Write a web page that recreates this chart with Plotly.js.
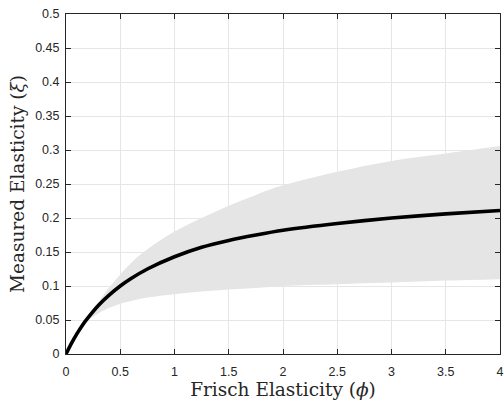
<!DOCTYPE html>
<html>
<head>
<meta charset="utf-8">
<script src="https://cdn.plot.ly/plotly-3.0.1.min.js"></script>
<style>html,body{margin:0;padding:0;background:#fff;}#chart{width:504px;height:401px;}</style>
</head>
<body>
<div id="chart"></div>
<script>
// Measured elasticity curve
const phi = [0, 0.05, 0.1, 0.15, 0.2, 0.3, 0.4, 0.5, 0.6, 0.75, 1, 1.25, 1.5, 1.75, 2, 2.5, 3, 3.5, 4];
const xi  = [0, 0.0155, 0.0295, 0.042, 0.0526, 0.0716, 0.0869, 0.100, 0.111, 0.125, 0.143, 0.157, 0.167, 0.175, 0.182, 0.192, 0.200, 0.206, 0.211];

// Shaded band
const bandPhi   = [0.2, 0.25, 0.3, 0.4, 0.5, 0.6, 0.75, 1, 1.25, 1.5, 1.75, 2, 2.5, 3, 3.5, 4];
const bandUpper = [0.053, 0.064, 0.076, 0.098, 0.117, 0.134, 0.154, 0.180, 0.200, 0.218, 0.234, 0.248, 0.268, 0.284, 0.295, 0.306];
const bandLower = [0.050, 0.055, 0.060, 0.068, 0.074, 0.078, 0.083, 0.088, 0.092, 0.095, 0.097, 0.100, 0.1025, 0.105, 0.108, 0.110];

const xTicks = [0, 0.5, 1, 1.5, 2, 2.5, 3, 3.5, 4];
const yTicks = [0, 0.05, 0.1, 0.15, 0.2, 0.25, 0.3, 0.35, 0.4, 0.45, 0.5];

const traces = [
  {x: bandPhi, y: bandLower, mode: 'lines', line: {width: 0, color: 'rgba(0,0,0,0)', shape: 'spline', smoothing: 1}, hoverinfo: 'skip', showlegend: false},
  {x: bandPhi, y: bandUpper, mode: 'lines', fill: 'tonexty', fillcolor: '#e5e5e5', line: {width: 0, color: 'rgba(0,0,0,0)', shape: 'spline', smoothing: 1}, hoverinfo: 'skip', showlegend: false},
  {x: phi, y: xi, mode: 'lines', line: {color: '#000000', width: 3.6, shape: 'spline', smoothing: 0.6}, showlegend: false}
];

const axisCommon = {
  showgrid: true, gridcolor: '#e6e6e6', gridwidth: 1,
  zeroline: false, showline: true, linecolor: '#262626', linewidth: 1,
  mirror: 'ticks', ticks: 'inside', ticklen: 5, tickcolor: '#262626', tickwidth: 1,
  tickfont: {family: 'Liberation Sans, Arial, sans-serif', size: 12.5, color: '#262626'}
};

const layout = {
  width: 504, height: 401,
  margin: {l: 66, r: 4, t: 14, b: 47},
  paper_bgcolor: '#ffffff', plot_bgcolor: '#ffffff',
  xaxis: Object.assign({}, axisCommon, {
    range: [0, 4], tickvals: xTicks, ticktext: xTicks.map(String), ticklabelstandoff: 6,
    title: {text: 'Frisch Elasticity (<i>ϕ</i>)', font: {family: 'DejaVu Serif, Liberation Serif, serif', size: 18.5, color: '#262626'}, standoff: 0}
  }),
  yaxis: Object.assign({}, axisCommon, {
    range: [0, 0.5], tickvals: yTicks, ticktext: yTicks.map(String), ticklabelstandoff: 3,
    title: {text: 'Measured Elasticity (<i>ξ</i>)', font: {family: 'DejaVu Serif, Liberation Serif, serif', size: 18.5, color: '#262626'}, standoff: 5}
  }),
  showlegend: false
};

Plotly.newPlot('chart', traces, layout, {displayModeBar: false, staticPlot: true});
</script>
</body>
</html>
